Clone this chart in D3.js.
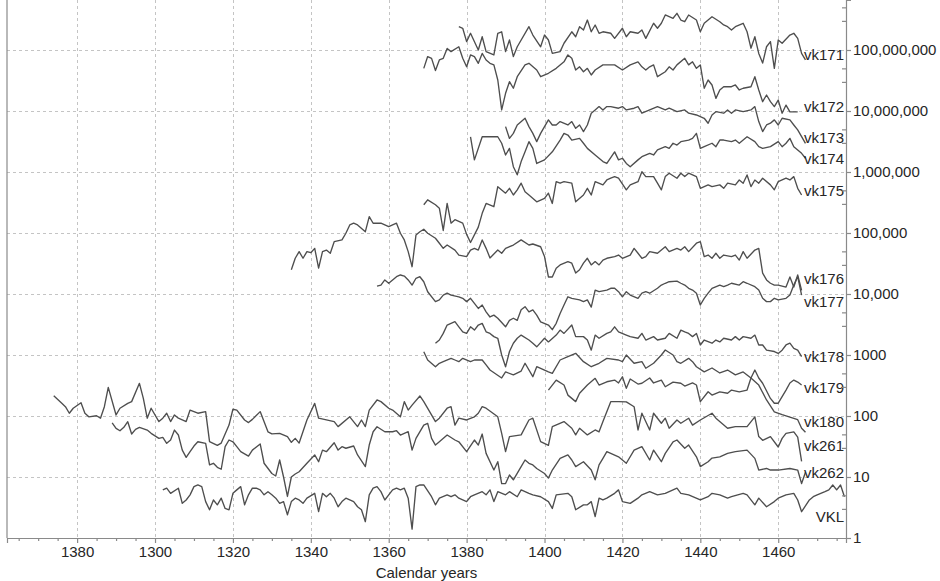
<!DOCTYPE html>
<html><head><meta charset="utf-8">
<script src="https://cdn.jsdelivr.net/npm/d3@7"></script>
<style>
body{margin:0;background:#fff}
svg{display:block}
text{font-family:"Liberation Sans",Arial,Helvetica,sans-serif}
</style>
</head><body>
<svg id="chart" width="940" height="581"></svg>
<script>
// ---------- DATA (index values; each series is shifted by its offset) ----------
const seriesNames = ["vk171","vk172","vk173","vk174","vk175","vk176","vk177","vk178","vk179","vk180","vk261","vk262","VKL"];
const offsets = [1e8, 1e7, 5e6, 2e6, 5e5, 5e4, 1e4, 2000, 200, 300, 100, 20, 5];

const vk171 = [[1378,2.41],[1379,2.27],[1380,1.37],[1381,1.88],[1383,1.00],[1384,1.65],[1385,0.94],[1387,0.83],[1388,1.88],[1389,1.99],[1390,0.94],[1391,1.46],[1392,0.78],[1393,1.13],[1396,2.41],[1397,1.76],[1399,1.13],[1400,1.76],[1401,1.46],[1402,0.88],[1404,0.94],[1405,1.29],[1407,1.99],[1408,1.65],[1409,2.41],[1410,2.13],[1411,3.10],[1412,1.99],[1413,2.57],[1414,1.88],[1415,1.99],[1417,1.88],[1418,1.55],[1420,2.27],[1421,1.65],[1422,1.99],[1424,1.88],[1425,2.13],[1426,1.55],[1428,2.74],[1429,2.27],[1430,2.74],[1431,3.75],[1433,3.31],[1434,3.99],[1435,3.10],[1436,2.91],[1437,3.75],[1439,3.10],[1440,1.99],[1441,2.74],[1443,3.51],[1445,2.91],[1446,2.57],[1447,2.41],[1448,2.13],[1449,2.41],[1451,2.74],[1452,1.99],[1453,1.07],[1454,1.65],[1455,0.88],[1456,0.61],[1457,1.13],[1458,1.37],[1459,0.50],[1460,1.46],[1461,1.29],[1463,1.76],[1464,1.88],[1465,1.55],[1466,0.88],[1467,0.69]];

const vk172 = [[1369,5.0],[1370,7.8],[1371,7.3],[1372,4.6],[1373,6.86],[1374,7.3],[1375,10.6],[1376,9.4],[1378,11.3],[1379,7.3],[1380,5.3],[1381,8.3],[1382,7.8],[1383,6.05],[1384,8.8],[1385,6.86],[1386,6.05],[1387,5.7],[1388,3.22],[1389,1.04],[1390,1.95],[1391,3.02],[1392,2.36],[1393,3.65],[1395,5.7],[1396,6.05],[1398,4.7],[1399,3.65],[1401,4.15],[1403,5.0],[1405,6.4],[1406,8.3],[1407,7.3],[1408,4.7],[1409,5.3],[1410,4.4],[1411,5.0],[1412,3.89],[1413,4.7],[1415,5.7],[1416,5.7],[1418,5.7],[1420,4.7],[1422,5.7],[1424,6.4],[1425,5.3],[1426,4.7],[1427,5.3],[1428,5.7],[1429,3.65],[1431,4.4],[1432,5.3],[1433,4.7],[1434,5.7],[1436,7.3],[1437,5.7],[1438,6.4],[1439,5.0],[1440,5.7],[1441,2.36],[1442,3.22],[1443,2.67],[1444,1.61],[1445,2.21],[1446,2.50],[1448,2.50],[1449,2.67],[1450,2.21],[1451,2.36],[1453,2.50],[1454,3.65],[1455,2.21],[1456,1.42],[1457,1.83],[1458,1.42],[1459,1.18],[1460,1.51],[1461,0.92],[1462,1.25],[1463,0.97],[1464,0.97],[1465,0.97]];

const vk173 = [[1390,1.11],[1391,0.71],[1392,0.86],[1393,1.18],[1395,1.52],[1396,1.11],[1397,0.86],[1398,0.63],[1399,0.86],[1401,1.43],[1402,1.18],[1403,1.18],[1404,1.34],[1406,1.18],[1407,1.34],[1408,1.04],[1409,1.18],[1410,0.92],[1411,1.18],[1412,1.84],[1413,2.08],[1414,2.36],[1415,2.08],[1416,2.36],[1417,2.36],[1419,2.22],[1420,2.36],[1421,2.08],[1423,2.22],[1424,2.36],[1425,1.84],[1427,2.08],[1429,2.36],[1431,2.08],[1432,2.22],[1434,1.95],[1436,2.08],[1437,1.84],[1439,1.72],[1441,1.52],[1442,1.26],[1443,1.72],[1444,1.95],[1446,1.84],[1447,2.08],[1448,1.84],[1449,2.08],[1451,1.95],[1453,2.08],[1454,2.36],[1455,1.34],[1456,0.92],[1457,1.18],[1458,1.26],[1459,1.43],[1460,1.18],[1461,1.52],[1463,1.43],[1464,1.18],[1465,0.98],[1466,0.76],[1467,0.59]];

const vk174 = [[1381,1.89],[1382,0.79],[1384,1.89],[1388,1.89],[1389,1.48],[1390,0.95],[1391,1.22],[1392,0.61],[1393,0.45],[1394,0.74],[1395,1.07],[1396,1.57],[1397,1.22],[1398,0.69],[1400,0.79],[1402,1.07],[1404,1.67],[1405,2.15],[1406,2.02],[1407,1.67],[1409,1.78],[1410,1.48],[1411,1.22],[1413,0.95],[1415,0.74],[1416,0.69],[1418,1.07],[1419,0.79],[1420,0.84],[1421,0.69],[1422,0.61],[1424,0.79],[1425,0.89],[1427,1.01],[1428,0.95],[1429,1.15],[1431,1.30],[1432,1.22],[1433,1.48],[1434,1.38],[1435,1.57],[1437,1.67],[1438,1.78],[1439,2.15],[1440,1.22],[1441,1.30],[1443,1.48],[1444,1.30],[1445,1.67],[1446,1.67],[1448,1.57],[1449,1.67],[1450,1.48],[1451,1.67],[1452,1.89],[1454,1.57],[1455,1.30],[1456,1.22],[1458,1.30],[1460,1.57],[1461,1.30],[1462,1.48],[1463,1.78],[1464,1.30],[1465,1.15],[1466,1.01],[1467,0.84]];

const vk175 = [[1369,0.58],[1370,0.70],[1372,0.58],[1373,0.51],[1374,0.22],[1375,0.61],[1376,0.29],[1377,0.33],[1379,0.29],[1380,0.19],[1381,0.14],[1383,0.25],[1384,0.42],[1385,0.61],[1387,0.54],[1388,1.15],[1390,0.90],[1391,1.08],[1392,0.84],[1393,1.02],[1394,1.31],[1395,0.95],[1396,0.84],[1398,0.65],[1400,0.74],[1401,0.90],[1402,0.61],[1403,1.39],[1404,1.31],[1405,1.39],[1407,1.31],[1408,0.65],[1410,0.84],[1411,1.08],[1412,0.84],[1413,1.39],[1415,1.23],[1416,1.48],[1417,1.58],[1418,1.68],[1419,1.58],[1421,1.02],[1422,1.23],[1424,1.39],[1425,2.02],[1426,1.68],[1428,1.68],[1429,1.31],[1430,1.02],[1431,1.68],[1432,1.91],[1434,1.58],[1435,1.91],[1436,1.68],[1437,1.91],[1439,1.68],[1440,1.08],[1442,1.23],[1443,1.15],[1445,1.23],[1446,1.08],[1447,1.31],[1449,1.23],[1450,1.48],[1451,1.31],[1452,1.79],[1453,1.15],[1454,1.48],[1455,1.31],[1456,1.58],[1458,1.23],[1459,1.02],[1460,1.39],[1462,1.58],[1463,1.48],[1464,1.68],[1465,1.08],[1466,0.84]];

const vk176 = [[1335,0.50],[1336,0.77],[1337,0.99],[1338,0.77],[1339,0.99],[1340,0.95],[1341,1.12],[1342,0.53],[1343,0.99],[1344,1.05],[1345,0.93],[1346,1.44],[1348,1.54],[1349,1.98],[1350,2.71],[1351,2.89],[1352,2.71],[1354,2.10],[1355,3.7],[1356,2.89],[1358,2.89],[1360,2.54],[1361,2.71],[1362,2.89],[1363,1.98],[1364,1.54],[1365,0.99],[1366,0.56],[1367,1.86],[1368,2.10],[1369,2.30],[1370,1.98],[1372,1.64],[1373,1.36],[1374,1.12],[1375,1.27],[1377,1.05],[1378,0.87],[1380,0.82],[1381,1.05],[1382,1.12],[1383,1.05],[1384,1.54],[1385,1.12],[1386,0.78],[1388,1.05],[1389,0.93],[1390,1.12],[1392,1.27],[1394,1.54],[1396,1.27],[1397,1.32],[1399,1.19],[1400,0.82],[1401,0.38],[1402,0.38],[1403,0.53],[1404,0.60],[1406,0.68],[1407,0.64],[1408,0.44],[1409,0.50],[1410,0.64],[1411,0.77],[1412,0.60],[1413,0.68],[1414,0.60],[1415,0.72],[1416,0.77],[1418,0.82],[1419,0.87],[1420,0.77],[1422,0.87],[1423,1.12],[1424,0.93],[1425,0.77],[1426,0.82],[1427,0.99],[1429,0.93],[1430,1.05],[1431,1.19],[1432,0.99],[1434,1.12],[1435,1.05],[1436,1.19],[1437,0.99],[1439,1.36],[1440,1.44],[1441,0.82],[1442,0.87],[1443,0.77],[1444,0.93],[1445,0.77],[1446,0.87],[1448,0.82],[1449,0.87],[1450,0.72],[1451,0.99],[1452,0.77],[1454,1.05],[1455,1.12],[1456,0.44],[1457,0.34],[1458,0.30],[1459,0.28],[1460,0.28],[1462,0.26],[1463,0.38],[1464,0.26],[1465,0.41],[1466,0.23]];

const vk177 = [[1357,1.35],[1358,1.40],[1359,1.70],[1360,1.50],[1361,1.70],[1362,1.92],[1363,2.05],[1364,1.97],[1365,1.70],[1366,1.40],[1367,1.81],[1368,1.92],[1369,1.59],[1370,1.09],[1372,0.75],[1373,0.80],[1374,0.96],[1375,1.03],[1376,0.96],[1378,0.90],[1379,0.85],[1380,0.75],[1381,0.85],[1382,0.70],[1383,0.58],[1384,0.66],[1385,0.51],[1386,0.42],[1387,0.45],[1388,0.40],[1390,0.29],[1391,0.37],[1392,0.40],[1393,0.37],[1394,0.55],[1395,0.62],[1396,0.51],[1397,0.55],[1398,0.45],[1399,0.35],[1401,0.31],[1402,0.26],[1403,0.33],[1404,0.48],[1405,0.66],[1406,0.90],[1407,0.85],[1409,0.80],[1410,0.75],[1411,0.80],[1412,0.61],[1413,1.16],[1414,1.09],[1416,1.16],[1417,1.24],[1418,1.24],[1419,1.09],[1420,0.90],[1421,1.09],[1422,0.96],[1424,0.85],[1425,1.03],[1426,1.09],[1427,1.03],[1429,1.24],[1430,1.40],[1431,1.50],[1432,1.59],[1434,1.63],[1435,1.50],[1436,1.40],[1437,1.24],[1438,1.16],[1439,1.03],[1440,0.66],[1441,0.85],[1442,1.03],[1443,1.24],[1445,1.40],[1446,1.32],[1447,1.40],[1448,1.50],[1450,1.40],[1451,1.59],[1452,1.50],[1454,1.32],[1455,1.16],[1456,0.85],[1457,0.75],[1458,0.75],[1459,0.85],[1460,0.80],[1462,0.85],[1463,0.96],[1464,1.40],[1465,1.92],[1466,0.96]];

const vk178 = [[1372,0.78],[1373,0.88],[1374,1.13],[1375,1.55],[1377,1.76],[1378,1.45],[1379,1.20],[1380,1.13],[1381,1.45],[1382,1.28],[1383,1.55],[1384,1.65],[1385,1.20],[1386,1.13],[1387,1.00],[1388,0.94],[1389,0.50],[1390,0.32],[1391,0.57],[1392,0.78],[1393,0.94],[1394,1.06],[1396,0.88],[1397,0.78],[1398,0.68],[1400,0.94],[1401,0.82],[1403,1.06],[1404,1.28],[1405,1.13],[1407,1.55],[1408,1.00],[1410,1.00],[1411,0.88],[1412,0.60],[1413,1.06],[1414,0.94],[1416,1.13],[1417,1.20],[1418,1.45],[1419,1.20],[1421,1.06],[1422,1.00],[1424,0.94],[1425,1.13],[1426,0.88],[1428,1.00],[1429,0.88],[1431,0.94],[1432,1.13],[1434,0.94],[1435,1.28],[1436,1.20],[1437,1.13],[1438,1.00],[1439,1.13],[1440,0.73],[1441,0.88],[1443,0.78],[1444,0.88],[1445,0.82],[1446,0.94],[1448,0.88],[1449,1.00],[1450,0.88],[1451,1.00],[1453,0.94],[1454,1.06],[1455,0.73],[1456,0.73],[1457,0.60],[1459,0.57],[1460,0.53],[1461,0.60],[1462,0.73],[1463,0.78],[1464,0.64],[1465,0.60],[1466,0.47]];

const vk179 = [[1401,1.33],[1403,1.94],[1405,1.61],[1406,1.10],[1408,0.86],[1409,1.18],[1411,1.61],[1413,2.07],[1414,1.61],[1416,1.82],[1418,1.94],[1419,1.74],[1420,2.20],[1421,1.42],[1422,2.02],[1424,1.67],[1425,1.72],[1427,2.10],[1428,1.74],[1430,1.94],[1431,1.51],[1433,1.80],[1435,1.72],[1436,1.55],[1438,1.74],[1439,1.61],[1440,0.86],[1442,1.25],[1443,1.10],[1445,1.24],[1447,1.18],[1448,1.33],[1450,1.24],[1452,1.33],[1453,2.10],[1454,2.84],[1455,2.10],[1456,1.72],[1458,0.97],[1459,0.81],[1460,0.81],[1462,1.33],[1463,1.74],[1464,1.94],[1465,1.80],[1466,1.61]];

const vk180 = [[1369,3.78],[1370,2.76],[1372,2.14],[1373,2.44],[1374,2.59],[1376,2.94],[1377,2.76],[1378,2.59],[1379,2.94],[1381,2.59],[1382,2.76],[1384,2.76],[1385,2.29],[1386,1.89],[1389,1.40],[1390,1.76],[1392,1.57],[1394,1.82],[1395,2.44],[1397,1.47],[1398,2.14],[1401,1.76],[1402,1.67],[1404,2.76],[1406,3.13],[1408,3.55],[1410,2.59],[1412,2.14],[1414,2.44],[1416,2.94],[1419,2.76],[1420,2.59],[1421,3.33],[1423,2.44],[1425,2.59],[1426,2.02],[1428,2.44],[1430,3.33],[1431,4.03],[1433,3.33],[1434,2.59],[1435,2.44],[1437,2.94],[1438,2.59],[1439,2.14],[1441,1.76],[1443,2.04],[1445,1.69],[1447,1.89],[1449,1.57],[1451,1.76],[1453,1.40],[1455,1.07],[1457,0.61],[1459,0.39],[1461,0.35],[1463,0.32],[1465,0.29],[1466,0.21],[1467,0.18]];

const vk261 = [[1274,2.14],[1276,1.63],[1277,1.42],[1278,1.11],[1279,1.34],[1281,1.65],[1282,1.11],[1283,0.97],[1285,1.01],[1286,0.92],[1287,1.42],[1288,2.95],[1290,1.04],[1291,1.34],[1293,1.61],[1294,1.72],[1296,3.43],[1297,1.95],[1298,0.92],[1299,1.34],[1301,0.81],[1302,0.92],[1303,1.11],[1304,0.81],[1305,1.04],[1306,0.92],[1308,0.81],[1309,1.25],[1311,1.11],[1313,1.18],[1314,0.38],[1316,0.33],[1317,0.36],[1319,0.71],[1320,1.29],[1321,1.25],[1323,0.86],[1324,0.78],[1325,0.88],[1327,1.18],[1329,0.55],[1330,0.51],[1332,0.52],[1334,0.46],[1335,0.37],[1336,0.43],[1337,0.36],[1339,0.86],[1341,1.61],[1342,0.92],[1346,0.81],[1347,0.67],[1350,0.97],[1352,0.67],[1353,0.86],[1354,0.67],[1355,1.25],[1357,1.83],[1358,1.72],[1360,1.34],[1361,1.25],[1363,0.97],[1364,1.72],[1365,1.25],[1366,1.51],[1368,2.13],[1369,1.72],[1372,0.81],[1373,0.92],[1375,1.34],[1376,1.42],[1377,0.71],[1378,0.92],[1380,0.86],[1382,0.97],[1383,1.11],[1384,1.42],[1385,1.34],[1388,0.97],[1389,0.52],[1390,0.26],[1391,0.46],[1394,0.49],[1396,0.86],[1397,0.92],[1399,0.38],[1401,0.33],[1402,0.67],[1405,0.81],[1407,0.63],[1408,0.49],[1409,0.63],[1411,0.49],[1413,0.59],[1414,0.55],[1415,0.81],[1417,1.72],[1419,1.72],[1421,1.70],[1423,1.42],[1424,0.59],[1425,1.11],[1427,0.59],[1428,1.11],[1430,0.76],[1431,0.92],[1432,0.63],[1434,0.86],[1435,0.76],[1437,0.92],[1438,0.71],[1440,0.86],[1443,1.11],[1444,0.92],[1447,0.63],[1449,0.67],[1452,0.67],[1454,0.97],[1455,0.46],[1456,0.40],[1458,0.46],[1460,0.31],[1461,0.43],[1462,0.52],[1464,0.55],[1465,0.45],[1466,0.18]];

const vk262 = [[1289,3.87],[1290,3.14],[1291,2.87],[1292,3.26],[1293,4.03],[1294,2.53],[1295,3.02],[1296,3.26],[1298,2.94],[1299,2.60],[1301,2.15],[1302,2.23],[1303,1.78],[1304,2.02],[1305,2.94],[1306,2.44],[1307,1.38],[1308,1.05],[1309,1.30],[1310,1.61],[1311,1.89],[1313,1.78],[1314,0.79],[1315,0.84],[1316,0.72],[1317,0.67],[1318,1.57],[1319,2.02],[1320,1.89],[1321,1.57],[1322,1.30],[1324,1.10],[1325,1.38],[1327,1.74],[1328,0.84],[1330,0.57],[1331,0.52],[1332,0.95],[1333,0.50],[1334,0.24],[1335,0.50],[1336,0.56],[1337,0.61],[1339,0.84],[1341,1.15],[1342,0.89],[1343,1.38],[1344,1.30],[1346,1.82],[1347,1.38],[1348,1.57],[1349,1.48],[1351,1.61],[1352,1.15],[1354,0.74],[1355,1.67],[1356,2.76],[1357,3.33],[1359,2.76],[1361,2.76],[1362,2.87],[1363,2.44],[1365,2.76],[1366,1.38],[1367,2.15],[1369,3.55],[1370,3.79],[1371,2.15],[1372,1.67],[1373,1.89],[1375,2.44],[1377,2.02],[1378,1.89],[1380,1.30],[1382,2.02],[1383,1.67],[1384,2.53],[1385,1.22],[1387,0.65],[1388,0.89],[1389,0.39],[1390,0.39],[1391,0.54],[1392,0.45],[1394,0.74],[1395,0.95],[1396,0.84],[1397,0.79],[1398,0.69],[1400,0.57],[1401,0.48],[1402,0.65],[1404,1.01],[1406,1.15],[1407,0.95],[1408,0.74],[1410,0.89],[1412,0.65],[1413,0.45],[1414,0.79],[1415,1.01],[1416,1.30],[1417,1.22],[1419,1.07],[1421,0.84],[1423,1.38],[1425,1.57],[1427,0.95],[1428,1.38],[1430,0.89],[1431,1.22],[1433,1.89],[1434,2.02],[1436,1.48],[1437,1.67],[1439,1.07],[1440,0.74],[1442,0.89],[1443,1.02],[1445,1.07],[1447,1.22],[1449,1.30],[1452,1.38],[1454,1.01],[1455,0.65],[1457,0.69],[1458,0.65],[1460,0.65],[1463,0.69],[1465,0.65],[1466,0.39],[1467,0.60]];

const vkl = [[1302,1.23],[1303,1.31],[1304,1.08],[1306,1.31],[1307,0.74],[1308,0.84],[1309,1.02],[1310,1.39],[1311,1.48],[1312,1.39],[1313,0.79],[1314,0.58],[1315,0.84],[1316,0.70],[1317,0.90],[1318,0.61],[1319,0.58],[1320,1.08],[1321,1.23],[1322,1.39],[1323,0.70],[1324,1.02],[1325,1.31],[1326,1.31],[1327,1.23],[1328,1.02],[1329,1.15],[1330,1.02],[1331,0.90],[1332,0.74],[1333,0.79],[1334,0.48],[1335,0.79],[1336,0.90],[1337,0.84],[1338,0.74],[1339,0.90],[1341,1.08],[1342,0.54],[1343,1.08],[1344,0.95],[1345,1.08],[1346,0.90],[1347,0.65],[1348,0.79],[1349,0.90],[1351,0.79],[1352,0.65],[1353,0.58],[1354,0.37],[1355,1.02],[1356,1.31],[1357,1.39],[1358,1.15],[1359,0.84],[1360,1.02],[1361,1.23],[1362,1.31],[1363,1.23],[1364,1.31],[1365,0.90],[1366,0.28],[1367,1.39],[1368,1.48],[1369,1.48],[1371,0.95],[1372,0.70],[1373,0.90],[1375,1.02],[1376,0.95],[1377,1.02],[1378,0.90],[1380,0.79],[1381,0.95],[1382,1.02],[1384,1.15],[1385,1.02],[1386,1.23],[1387,0.79],[1388,1.15],[1390,1.02],[1391,1.15],[1393,0.95],[1394,1.23],[1396,1.08],[1397,1.02],[1399,0.95],[1401,0.79],[1402,0.61],[1403,1.02],[1406,1.08],[1407,0.95],[1408,0.58],[1410,0.70],[1411,0.70],[1412,0.79],[1413,0.45],[1414,0.90],[1415,0.84],[1416,0.90],[1418,1.08],[1419,1.23],[1420,0.79],[1422,0.74],[1424,0.90],[1425,1.02],[1427,1.15],[1429,1.02],[1431,1.08],[1434,1.31],[1435,1.08],[1437,1.02],[1440,0.84],[1442,0.95],[1443,1.08],[1445,1.02],[1447,0.90],[1448,0.95],[1451,1.08],[1452,1.02],[1454,0.70],[1455,0.90],[1457,0.65],[1459,0.79],[1460,0.90],[1462,1.02],[1464,1.08],[1465,0.84],[1466,0.54],[1468,0.84],[1469,0.95],[1470,1.02],[1472,1.15],[1473,1.23],[1474,1.48],[1475,1.23],[1476,1.48],[1477,0.95]];

const seriesData = [vk171, vk172, vk173, vk174, vk175, vk176, vk177, vk178, vk179, vk180, vk261, vk262, vkl];

const xTickYears  = [1280, 1300, 1320, 1340, 1360, 1380, 1400, 1420, 1440, 1460];
const xTickLabels = ["1380", "1300", "1320", "1340", "1360", "1380", "1400", "1420", "1440", "1460"];
const yTickValues = [1, 10, 100, 1000, 1e4, 1e5, 1e6, 1e7, 1e8];
const yTickLabels = ["1", "10", "100", "1000", "10,000", "100,000", "1,000,000", "10,000,000", "100,000,000"];
const xTitle = "Calendar years";

// ---------- LAYOUT ----------
const W = 940, H = 581;
const plot = {left: 7, right: 846, top: 0, bottom: 538};
const labelBaselines = [60, 112, 143, 164, 196, 284, 307, 362, 393, 427, 451, 478, 522];
const lineColor = "#4e4e4e", axisColor = "#8a8a8a", gridColor = "#c4c4c4", textColor = "#262626";

const svg = d3.select("#chart");
svg.append("rect").attr("width", W).attr("height", H).attr("fill", "#fff");

const x = d3.scaleLinear().domain([1262, 1477.4]).range([plot.left, plot.right]);
const y = d3.scaleLog().domain([1, 6.6e8]).range([plot.bottom, plot.top]);

// grid
const grid = svg.append("g").attr("stroke", gridColor).attr("stroke-width", 1).attr("stroke-dasharray", "3,3");
grid.selectAll("line.h").data(yTickValues.slice(1)).join("line")
  .attr("x1", plot.left).attr("x2", plot.right)
  .attr("y1", d => Math.round(y(d)) + 0.5).attr("y2", d => Math.round(y(d)) + 0.5);
grid.selectAll("line.v").data(xTickYears).join("line")
  .attr("y1", plot.top).attr("y2", plot.bottom)
  .attr("x1", d => Math.round(x(d)) + 0.5).attr("x2", d => Math.round(x(d)) + 0.5);

// series
svg.append("clipPath").attr("id", "clip").append("rect")
  .attr("x", plot.left).attr("y", plot.top).attr("width", plot.right - plot.left).attr("height", plot.bottom - plot.top);
const line = d3.line().x(d => x(d[0])).y(d => y(d[1]));
const gLines = svg.append("g").attr("clip-path", "url(#clip)");
seriesData.forEach((s, i) => {
  const pts = s.map(p => [p[0], p[1] * offsets[i]]);
  gLines.append("path").attr("d", line(pts)).attr("fill", "none")
    .attr("stroke", lineColor).attr("stroke-width", 1.35).attr("stroke-linejoin", "round");
});

// series labels
svg.append("g").selectAll("text").data(seriesNames).join("text")
  .attr("x", plot.right - 2).attr("y", (d, i) => labelBaselines[i])
  .attr("text-anchor", "end").attr("font-size", 15).attr("fill", textColor)
  .text(d => d);

// left frame line
svg.append("line").attr("x1", plot.left).attr("x2", plot.left).attr("y1", plot.top).attr("y2", plot.bottom)
  .attr("stroke", axisColor).attr("stroke-width", 1.2);

// x axis
svg.append("g").attr("transform", `translate(0,${plot.bottom})`)
  .call(d3.axisBottom(x).tickValues(xTickYears).tickSize(5).tickPadding(3)
    .tickFormat((d, i) => xTickLabels[i]));
const xMinor = d3.range(1265, 1477, 5).filter(v => !xTickYears.includes(v));
svg.append("g").attr("transform", `translate(0,${plot.bottom})`)
  .call(d3.axisBottom(x).tickValues(xMinor).tickSize(3).tickFormat(""))
  .call(g => g.select(".domain").remove());

// y axis (right)
svg.append("g").attr("transform", `translate(${plot.right},0)`)
  .call(d3.axisRight(y).tickValues(yTickValues).tickSize(5).tickPadding(2)
    .tickFormat((d, i) => yTickLabels[i]));
const yMinor = [];
yTickValues.forEach(v => { yMinor.push(v * 3, v * 5); });
svg.append("g").attr("transform", `translate(${plot.right},0)`)
  .call(d3.axisLeft(y).tickValues(yMinor.filter(v => v < 6.6e8)).tickSize(4).tickFormat(""))
  .call(g => g.select(".domain").remove());

svg.selectAll(".domain, .tick line").attr("stroke", axisColor).attr("stroke-width", 1.2);
svg.selectAll(".tick text").attr("font-size", 15).attr("fill", textColor)
  .attr("font-family", '"Liberation Sans", Arial, sans-serif');

// x title
svg.append("text").attr("x", (plot.left + plot.right) / 2).attr("y", 578)
  .attr("text-anchor", "middle").attr("font-size", 15).attr("fill", textColor).text(xTitle);
</script>
</body></html>
